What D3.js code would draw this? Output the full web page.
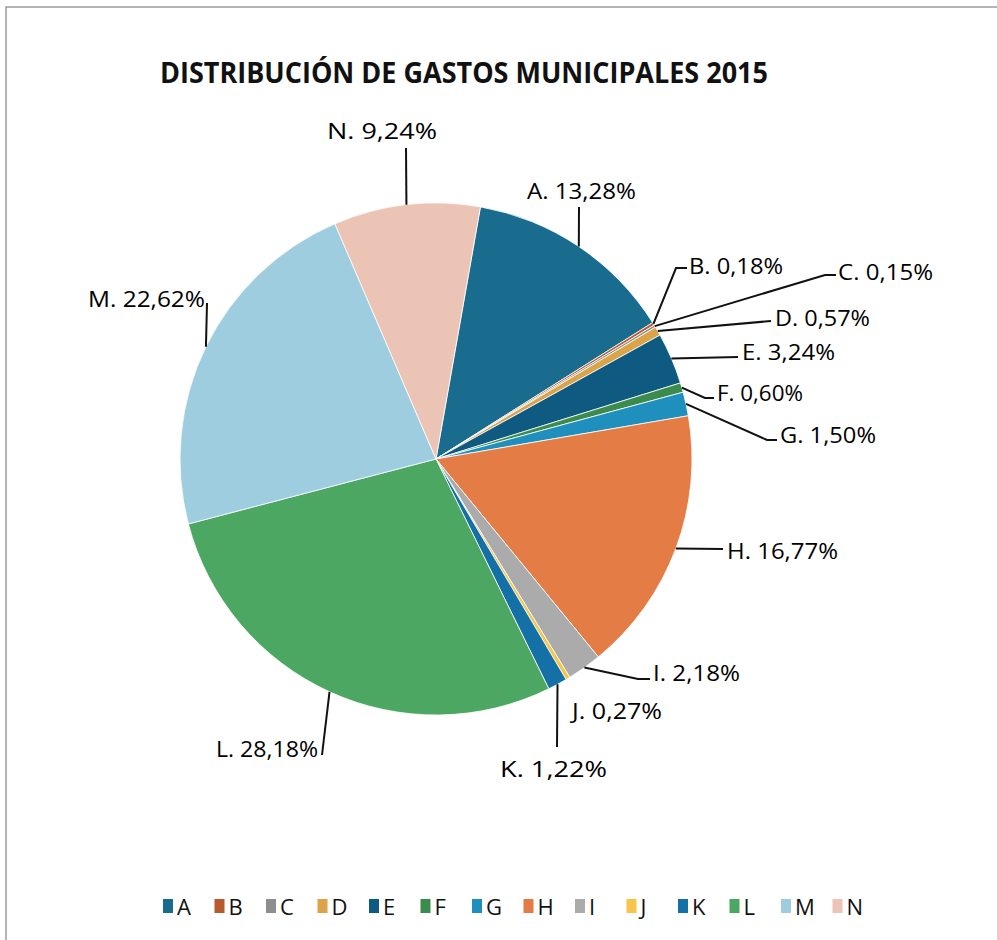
<!DOCTYPE html>
<html><head><meta charset="utf-8">
<script src="https://cdnjs.cloudflare.com/ajax/libs/d3/7.8.5/d3.min.js"></script>
<style>
html,body{margin:0;padding:0;background:#fff;}
svg{display:block;font-family:"Open Sans",sans-serif;}
</style></head>
<body>
<svg id="chart" width="997" height="940"></svg>
<script>
// ---- data ----
const categories = ["A","B","C","D","E","F","G","H","I","J","K","L","M","N"];
const values = [13.28,0.18,0.15,0.57,3.24,0.60,1.50,16.77,2.18,0.27,1.22,28.18,22.62,9.24];
const valueLabels = ["13,28%","0,18%","0,15%","0,57%","3,24%","0,60%","1,50%","16,77%","2,18%","0,27%","1,22%","28,18%","22,62%","9,24%"];
const colors = ["#196c8e","#b65b2e","#8e8e8e","#dca449","#0f5a80","#3b8c4c","#1f8fbd","#e37c45","#ababab","#f6c54a","#1570a6","#4ca762","#9fcde0","#ebc4b5"];
const title = "DISTRIBUCIÓN DE GASTOS MUNICIPALES 2015";

// ---- layout (label placement, not data) ----
const cx = 436, cy = 459, R = 256, startDeg = 10;
const labelLayout = [
  {tx:527, ty:190, w:109, pts:[[579,207]]},
  {tx:689, ty:265, w:94, pts:[[676,268],[687,268]]},
  {tx:838, ty:271, w:95, pts:[[825,275],[836,275]]},
  {tx:775, ty:317, w:95, pts:[[771,321]]},
  {tx:742, ty:351, w:93, pts:[[738,357]]},
  {tx:717, ty:392, w:86, pts:[[705,398],[714,398]]},
  {tx:780, ty:434, w:96, pts:[[767,440],[777,440]]},
  {tx:727, ty:550, w:111, pts:[[723,549]]},
  {tx:653, ty:672, w:87, pts:[[638,679],[650,679]]},
  {tx:572, ty:710, w:90, pts:null},
  {tx:500, ty:768, w:107, pts:[[557,747]]},
  {tx:216, ty:748, w:102, pts:[[322,755]]},
  {tx:88,  ty:298, w:117, pts:[[207,303]]},
  {tx:327, ty:130, w:110, pts:[[406,148]]}
];

const svg = d3.select("#chart");

// border
svg.append("path").attr("d","M6,941 V7 H998").attr("fill","none").attr("stroke","#9a9a9a").attr("stroke-width",1.5);

// title
svg.append("text").attr("x",160).attr("y",71).attr("dominant-baseline","central")
  .attr("font-size",29).attr("font-weight","bold").attr("fill","#111")
  .attr("textLength",608).attr("lengthAdjust","spacingAndGlyphs").text(title);

const data = categories.map((c,i)=>({cat:c, value:values[i], label:valueLabels[i], color:colors[i], layout:labelLayout[i]}));

const pie = d3.pie().sort(null).value(d=>d.value)
  .startAngle(startDeg*Math.PI/180).endAngle(startDeg*Math.PI/180+2*Math.PI);
const arcs = pie(data);
const arc = d3.arc().innerRadius(0).outerRadius(R);

const g = svg.append("g").attr("transform",`translate(${cx},${cy})`);
g.selectAll("path.slice").data(arcs).join("path").attr("class","slice")
  .attr("d",arc).attr("fill",d=>d.data.color).attr("stroke","#fff").attr("stroke-width",0.8);

// leader lines
const line = d3.line();
arcs.forEach(a=>{
  const L = a.data.layout;
  if(!L.pts) return;
  const mid = (a.startAngle+a.endAngle)/2;
  const p0 = [cx + R*Math.sin(mid), cy - R*Math.cos(mid)];
  svg.append("path").attr("d", line([p0, ...L.pts])).attr("fill","none")
    .attr("stroke","#111").attr("stroke-width",2);
});

// labels
svg.selectAll("text.lbl").data(data).join("text").attr("class","lbl")
  .attr("x",d=>d.layout.tx).attr("y",d=>d.layout.ty).attr("dominant-baseline","central")
  .attr("font-size",21.5).attr("fill","#000")
  .attr("textLength",d=>d.layout.w).attr("lengthAdjust","spacingAndGlyphs")
  .text(d=>d.cat+". "+d.label);

// legend
const legX0 = 163, legStep = 51.5, legY = 906;
const leg = svg.selectAll("g.leg").data(data).join("g").attr("class","leg")
  .attr("transform",(d,i)=>`translate(${legX0+i*legStep},${legY})`);
leg.append("rect").attr("x",0).attr("y",-7).attr("width",10).attr("height",14).attr("fill",d=>d.color);
leg.append("text").attr("x",14).attr("y",0).attr("dominant-baseline","central")
  .attr("font-size",22).attr("fill","#111").text(d=>d.cat);
</script>
</body></html>
